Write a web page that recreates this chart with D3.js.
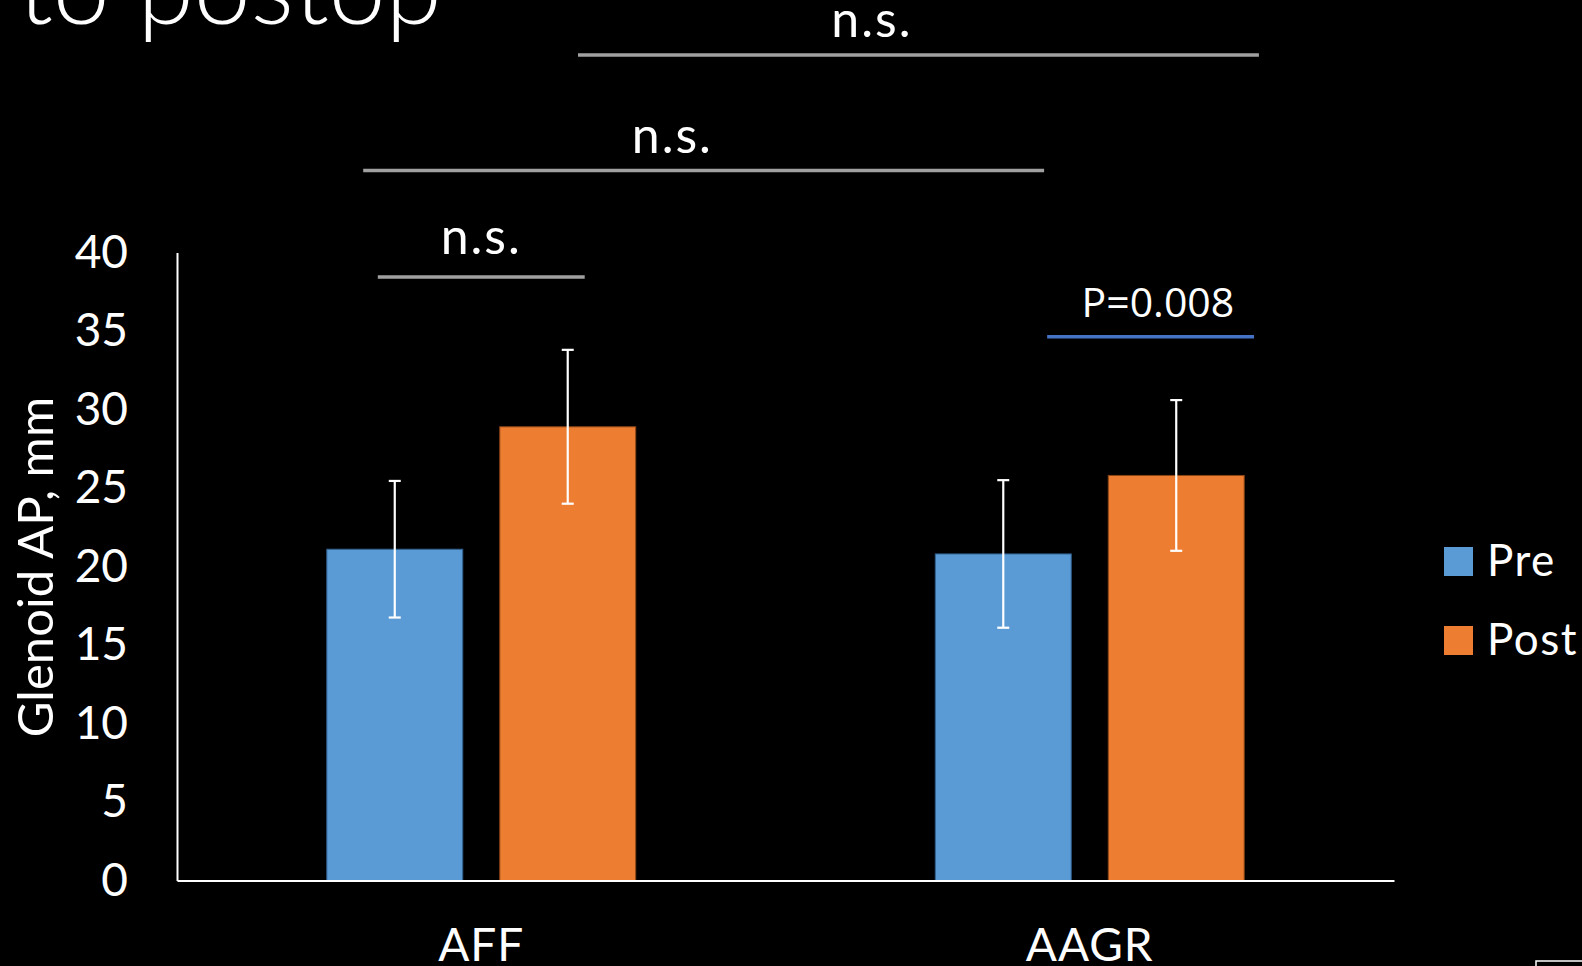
<!DOCTYPE html>
<html>
<head>
<meta charset="utf-8">
<script src="https://d3js.org/d3.v7.min.js"></script>
<style>
  html, body { margin: 0; padding: 0; background: #000; overflow: hidden; }
</style>
</head>
<body>
<div id="chart"></div>
<script>
// Chart data
const categories = ["AFF", "AAGR"];
const seriesNames = ["Pre", "Post"];
const preValues = [21.1, 20.8];
const postValues = [28.9, 25.8];
const preErrors = [4.35, 4.7];
const postErrors = [4.9, 4.8];
const yTicks = [0, 5, 10, 15, 20, 25, 30, 35, 40];

// Significance annotations (x in category units, y in mm)
const sigLabels = ["n.s.", "n.s.", "n.s.", "P=0.008"];
const sigFrom = [0.659, 0.306, 0.330, 1.430];
const sigTo = [1.778, 1.425, 0.670, 1.770];
const sigLineY = [52.58, 45.22, 38.44, 34.64];
const sigTextX = [1.142, 0.814, 0.5, 1.612];
const sigTextY = [53.71, 46.36, 39.9, 35.91];

const colors = { Pre: "#5B9BD5", Post: "#ED7D31" };
const fontMain = "Lato, 'Open Sans', sans-serif";

const width = 1582, height = 966;
const plot = { left: 177, right: 1394, top: 252.5, bottom: 880.5 };

const svg = d3.select("#chart")
  .append("svg")
  .attr("width", width)
  .attr("height", height)
  .style("background", "#000");

// Scales
const x = d3.scaleBand()
  .domain(categories)
  .range([plot.left, plot.right])
  .padding(0);

const xSub = d3.scaleBand()
  .domain(seriesNames)
  .range([0, x.bandwidth()])
  .paddingInner(0.214)
  .paddingOuter(0.866);

const xUnit = d3.scaleLinear()
  .domain([0, categories.length])
  .range([plot.left, plot.right]);

const y = d3.scaleLinear()
  .domain([0, 40])
  .range([plot.bottom, plot.top]);

// Title fragment cut off at the top
svg.append("text")
  .attr("x", 18)
  .attr("y", 24)
  .text("to postop")
  .style("font-family", fontMain)
  .style("font-size", "102px")
  .style("font-weight", "300")
  .style("fill", "#fff");

// Bars
const rows = categories.map((c, i) => ({
  cat: c,
  values: [
    { key: "Pre", value: preValues[i], err: preErrors[i] },
    { key: "Post", value: postValues[i], err: postErrors[i] }
  ]
}));

const groups = svg.selectAll(".group")
  .data(rows)
  .enter()
  .append("g")
  .attr("class", "group")
  .attr("transform", d => `translate(${x(d.cat)},0)`);

groups.selectAll(".bar")
  .data(d => d.values)
  .enter()
  .append("rect")
  .attr("class", "bar")
  .attr("x", d => xSub(d.key))
  .attr("y", d => y(d.value))
  .attr("width", xSub.bandwidth())
  .attr("height", d => y(0) - y(d.value))
  .attr("fill", d => colors[d.key])
  .attr("stroke", d => d.key === "Pre" ? "#2f5f8c" : "#8a4516")
  .attr("stroke-width", 1);

// Error bars
const capW = 12;
const err = groups.selectAll(".err")
  .data(d => d.values)
  .enter()
  .append("g")
  .attr("class", "err")
  .attr("stroke", "#fff")
  .attr("stroke-width", 2.2);

err.append("line")
  .attr("x1", d => xSub(d.key) + xSub.bandwidth() / 2)
  .attr("x2", d => xSub(d.key) + xSub.bandwidth() / 2)
  .attr("y1", d => y(d.value + d.err))
  .attr("y2", d => y(d.value - d.err));

err.selectAll(".cap")
  .data(d => [d.value + d.err, d.value - d.err].map(v => ({ key: d.key, v: v })))
  .enter()
  .append("line")
  .attr("class", "cap")
  .attr("x1", d => xSub(d.key) + xSub.bandwidth() / 2 - capW / 2)
  .attr("x2", d => xSub(d.key) + xSub.bandwidth() / 2 + capW / 2)
  .attr("y1", d => y(d.v))
  .attr("y2", d => y(d.v));

// Y axis
const yAxis = svg.append("g")
  .attr("transform", `translate(${plot.left},0)`)
  .call(d3.axisLeft(y).tickValues(yTicks).tickSize(0).tickPadding(49));

yAxis.select(".domain")
  .attr("stroke", "#fff")
  .attr("stroke-width", 2);

yAxis.selectAll("text")
  .style("font-family", fontMain)
  .style("font-size", "46px")
  .style("fill", "#fff");

// X axis
const xAxis = svg.append("g")
  .attr("transform", `translate(0,${plot.bottom})`)
  .call(d3.axisBottom(x).tickSize(0).tickPadding(0));

xAxis.select(".domain")
  .attr("stroke", "#fff")
  .attr("stroke-width", 2);

xAxis.selectAll("text")
  .attr("dy", null)
  .attr("y", 80)
  .style("font-family", fontMain)
  .style("font-size", "46px")
  .style("letter-spacing", "1px")
  .style("fill", "#fff");

// Y axis title
svg.append("text")
  .attr("transform", "translate(53,567) rotate(-90)")
  .attr("text-anchor", "middle")
  .text("Glenoid AP, mm")
  .style("font-family", fontMain)
  .style("font-size", "49px")
  .style("fill", "#fff");

// Significance lines
sigLabels.forEach((label, i) => {
  const isP = label.startsWith("P");
  svg.append("line")
    .attr("x1", xUnit(sigFrom[i]))
    .attr("x2", xUnit(sigTo[i]))
    .attr("y1", y(sigLineY[i]))
    .attr("y2", y(sigLineY[i]))
    .attr("stroke", isP ? "#4472C4" : "#a0a0a0")
    .attr("stroke-width", 3.5);

  svg.append("text")
    .attr("x", xUnit(sigTextX[i]))
    .attr("y", y(sigTextY[i]))
    .attr("text-anchor", "middle")
    .text(label)
    .style("font-family", isP ? "'Open Sans', sans-serif" : fontMain)
    .style("font-size", isP ? "41px" : "50px")
    .style("letter-spacing", isP ? "0px" : "2px")
    .style("fill", "#fff");
});

// Legend
const legend = svg.selectAll(".legend")
  .data(seriesNames)
  .enter()
  .append("g")
  .attr("class", "legend")
  .attr("transform", (d, i) => `translate(1444,${547 + i * 79})`);

legend.append("rect")
  .attr("width", 29)
  .attr("height", 29)
  .attr("fill", d => colors[d]);

legend.append("text")
  .attr("x", 43)
  .attr("y", 29)
  .text(d => d)
  .style("font-family", fontMain)
  .style("font-size", "44px")
  .style("letter-spacing", "1.5px")
  .style("fill", "#fff");

// Small box edge in the bottom-right corner
svg.append("rect")
  .attr("x", 1536)
  .attr("y", 961)
  .attr("width", 60)
  .attr("height", 20)
  .attr("fill", "#000")
  .attr("stroke", "#fff")
  .attr("stroke-width", 1.5);
</script>
</body>
</html>
